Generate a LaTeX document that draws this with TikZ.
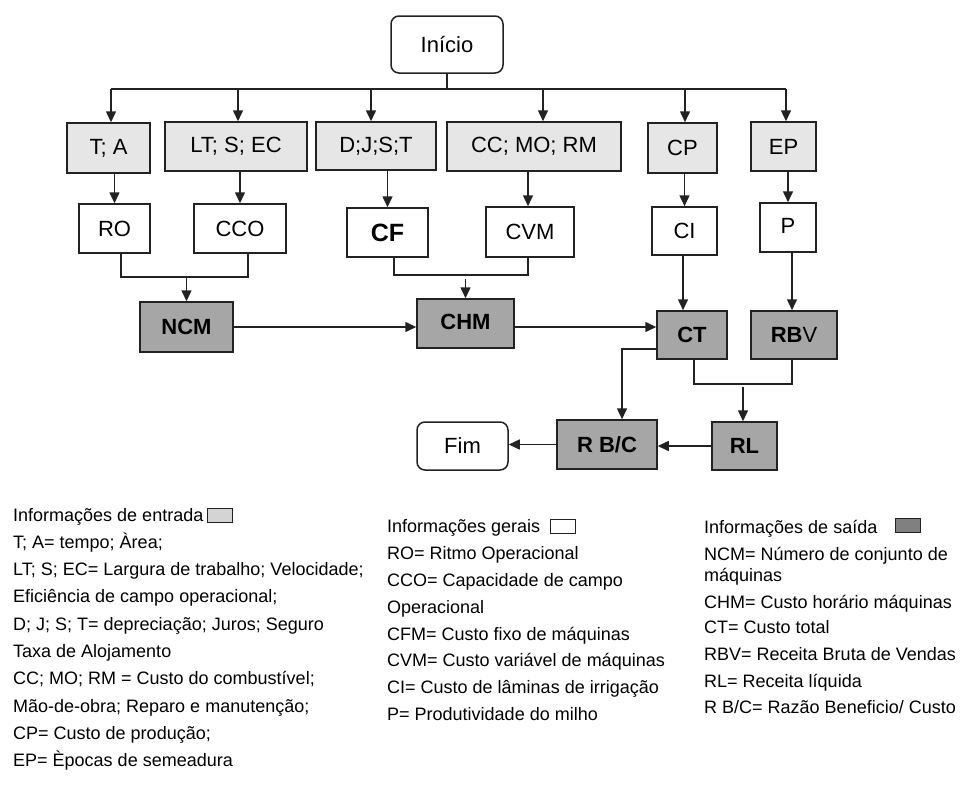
\documentclass[tikz,border=0pt]{standalone}
\usepackage{fontspec}
\setmainfont{Liberation Sans}
\usetikzlibrary{arrows.meta,calc}
\definecolor{inbox}{HTML}{E6E6E6}
\definecolor{outbox}{HTML}{A6A6A6}
\definecolor{lin}{HTML}{222222}
\definecolor{keyin}{HTML}{D4D4D4}
\definecolor{keyout}{HTML}{808080}
\newcommand\bxfont{\fontsize{22}{26}\selectfont}
\newcommand\lgfont{\fontsize{18}{22}\selectfont}
\begin{document}
\begin{tikzpicture}[x=1pt,y=-1pt,
  bx/.style={draw=lin, line width=1.5pt, inner sep=0pt, font=\bxfont, text=black},
  inbx/.style={bx, fill=inbox},
  genbx/.style={bx, fill=white},
  outbx/.style={bx, fill=outbox, font=\bxfont\bfseries},
  rnd/.style={bx, fill=white, rounded corners=8pt},
  ln/.style={draw=lin, line width=1.5pt},
  arr/.style={ln, -{Triangle[length=11pt,width=10pt]}},
  lg/.style={anchor=base west, inner sep=0pt, font=\lgfont, text=black},
  key/.style={draw=lin, line width=1pt, inner sep=0pt, minimum width=25pt, minimum height=14pt}]
\useasboundingbox (0,0) rectangle (960,787);

% top
\node[rnd, minimum width=112pt, minimum height=57pt] (Inicio) at (447,44.5) {Início};

% input row
\node[inbx, minimum width=83pt,  minimum height=50pt] (TA) at (108.5,148) {T; A};
\node[inbx, minimum width=142pt, minimum height=49pt] (LT) at (236,146.5) {LT; S; EC};
\node[inbx, minimum width=120pt, minimum height=48pt] (DJ) at (376,146) {D;J;S;T};
\node[inbx, minimum width=174pt, minimum height=49pt] (CC) at (534,146.5) {CC; MO; RM};
\node[inbx, minimum width=69pt,  minimum height=50pt] (CP) at (682.5,148) {CP};
\node[inbx, minimum width=65pt,  minimum height=49pt] (EP) at (783.5,146.5) {EP};

% general row
\node[genbx, minimum width=71pt, minimum height=49pt] (RO)  at (114.5,228.5) {RO};
\node[genbx, minimum width=92pt, minimum height=49pt] (CCO) at (240,228.5) {CCO};
\node[genbx, minimum width=81pt, minimum height=49pt, font=\fontsize{25}{28}\selectfont\bfseries] (CF) at (387.5,232.5) {CF};
\node[genbx, minimum width=88pt, minimum height=50pt] (CVM) at (530,232) {CVM};
\node[genbx, minimum width=65pt, minimum height=48pt] (CI)  at (684.5,231) {CI};
\node[genbx, minimum width=56pt, minimum height=49pt] (P)   at (788,227.5) {\raisebox{4pt}{P}};

% output boxes
\node[outbx, minimum width=93pt,  minimum height=50pt] (NCM) at (186.5,327) {NCM};
\node[outbx, minimum width=97pt,  minimum height=49pt] (CHM) at (465.5,323.5) {\raisebox{3pt}{CHM}};
\node[outbx, minimum width=70pt,  minimum height=48pt] (CT)  at (692,335) {CT};
\node[outbx, minimum width=86pt,  minimum height=48pt] (RBV) at (794,335) {RB\textmd{V}};
\node[outbx, minimum width=65pt,  minimum height=48pt] (RL)  at (744.5,446) {RL};
\node[outbx, minimum width=100pt, minimum height=49pt] (RBC) at (607,444.5) {R B/C};
\node[rnd,   minimum width=91pt,  minimum height=48pt] (Fim) at (462.5,446) {Fim};

% bus
\coordinate (b1) at (111,89);
\coordinate (b2) at (238,89);
\coordinate (b3) at (371,89);
\coordinate (b4) at (543,89);
\coordinate (b5) at (685,89);
\coordinate (b6) at (786,89);
\draw[ln] (Inicio.south) -- (Inicio.south |- b1);
\draw[ln] (b1) -- (b6);
\draw[arr] (b1) -- (b1 |- TA.north);
\draw[arr] (b2) -- (b2 |- LT.north);
\draw[arr] (b3) -- (b3 |- DJ.north);
\draw[arr] (b4) -- (b4 |- CC.north);
\draw[arr] (b5) -- (b5 |- CP.north);
\draw[arr] (b6) -- (b6 |- EP.north);

% input -> general
\draw[arr] (TA.south -| RO.north) -- (RO.north);
\draw[arr] (LT.south -| CCO.north) -- (CCO.north);
\draw[arr] (DJ.south -| CF.north) -- (CF.north);
\draw[arr] ([xshift=-2pt]CC.south -| CVM.north) -- ([xshift=-2pt]CVM.north);
\draw[arr] (CP.south -| CI.north) -- (CI.north);
\draw[arr] (EP.south -| P.north) -- (P.north);

% brackets
\coordinate (j1) at (186.5,277);
\draw[ln] ([xshift=6.5pt]RO.south) |- (j1) -| ([xshift=8pt]CCO.south);
\draw[arr] (j1) -- (NCM.north);
\coordinate (j2) at (465.5,275);
\draw[ln] ([xshift=6.5pt]CF.south) |- (j2) -| ([xshift=-2pt]CVM.south);
\draw[arr] ([yshift=-4pt]j2) -- (CHM.north);
\coordinate (j3) at (743,384);
\draw[ln] ([xshift=2pt]CT.south) |- (j3) -| ([xshift=-2pt]RBV.south);
\draw[arr] ([yshift=-3pt]j3) -- (j3 |- RL.north);

% flow
\draw[arr] (NCM.east) -- (NCM.east -| CHM.west);
\draw[arr] (CHM.east |- NCM.east) -- (CT.west |- NCM.east);
\draw[arr] ([xshift=-1.5pt]CI.south) -- ([xshift=-1.5pt]CI.south |- CT.north);
\draw[arr] ([xshift=4pt]P.south) -- ([xshift=4pt]P.south |- RBV.north);
\draw[arr] ([yshift=-14pt]CT.west) -| ([xshift=15pt]RBC.north);
\draw[arr] (RL.west) -- (RL.west -| RBC.east);
\draw[arr] (RBC.west) -- (RBC.west -| Fim.east);

% legend column 1
\node[lg] (e0) at (13,521) {Informações de entrada};
\node[key, fill=keyin] (k1) at (219.5,515) {};
\node[lg] (e1) at (13,548.3) {T; A= tempo; Àrea;};
\node[lg] (e2) at (13,575.6) {LT; S; EC= Largura de trabalho; Velocidade;};
\node[lg] (e3) at (13,602.9) {Eficiência de campo operacional;};
\node[lg] (e4) at (13,630.2) {D; J; S; T= depreciação; Juros; Seguro};
\node[lg] (e5) at (13,657.5) {Taxa de Alojamento};
\node[lg] (e6) at (13,684.8) {CC; MO; RM = Custo do combustível;};
\node[lg] (e7) at (13,712.1) {Mão-de-obra; Reparo e manutenção;};
\node[lg] (e8) at (13,739.4) {CP= Custo de produção;};
\node[lg] (e9) at (13,766.7) {EP= Èpocas de semeadura};

% legend column 2
\node[lg] (g0) at (387,532) {Informações gerais};
\node[key, fill=white] (k2) at (562.5,526.5) {};
\node[lg] (g1) at (387,559) {RO= Ritmo Operacional};
\node[lg] (g2) at (387,586) {CCO= Capacidade de campo};
\node[lg] (g3) at (387,613) {Operacional};
\node[lg] (g4) at (387,640) {CFM= Custo fixo de máquinas};
\node[lg] (g5) at (387,666) {CVM= Custo variável de máquinas};
\node[lg] (g6) at (387,693) {CI= Custo de lâminas de irrigação};
\node[lg] (g7) at (387,720) {P= Produtividade do milho};

% legend column 3
\node[lg] (s0) at (704,533) {Informações de saída};
\node[key, fill=keyout] (k3) at (907.5,525.5) {};
\node[lg] (s1) at (704,560) {NCM= Número de conjunto de};
\node[lg] (s2) at (704,581) {máquinas};
\node[lg] (s3) at (704,608) {CHM= Custo horário máquinas};
\node[lg] (s4) at (704,633) {CT= Custo total};
\node[lg] (s5) at (704,660) {RBV= Receita Bruta de Vendas};
\node[lg] (s6) at (704,687) {RL= Receita líquida};
\node[lg] (s7) at (704,713) {R B/C= Razão Beneficio/ Custo};
\end{tikzpicture}
\end{document}
